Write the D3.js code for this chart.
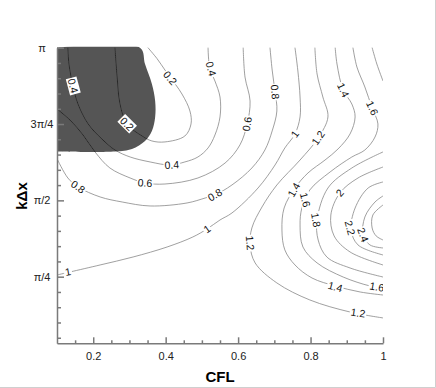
<!DOCTYPE html>
<html>
<head>
<meta charset="utf-8">
<script src="https://cdn.jsdelivr.net/npm/d3@7"></script>
<style>
  body { margin: 0; background: #fff; }
  text { font-family: "Liberation Sans", Arial, sans-serif; }
</style>
</head>
<body>
<div id="drawingfield"></div>
<script>
var PI = Math.PI;

// contour lines, points are [CFL, k*dx]
var c02 = [[0.260,3.142],[0.266,2.840],[0.274,2.562],[0.293,2.357],[0.335,2.233],[0.362,2.182],[0.398,2.172],[0.453,2.233],[0.470,2.357],[0.467,2.490],[0.445,2.665],[0.412,2.840],[0.398,2.912],[0.376,3.030],[0.351,3.142]];
var c04 = [[0.130,3.142],[0.133,2.974],[0.144,2.748],[0.158,2.562],[0.186,2.357],[0.224,2.202],[0.260,2.089],[0.302,2.017],[0.357,1.966],[0.412,1.935],[0.453,1.966],[0.489,2.017],[0.517,2.110],[0.536,2.243],[0.550,2.429],[0.550,2.634],[0.536,2.799],[0.522,2.923],[0.517,3.142]];
var c06 = [[0.100,2.511],[0.136,2.397],[0.172,2.243],[0.205,2.069],[0.246,1.904],[0.302,1.801],[0.343,1.750],[0.398,1.739],[0.489,1.801],[0.564,1.955],[0.605,2.141],[0.625,2.357],[0.633,2.593],[0.619,2.840],[0.614,3.142]];
var c08 = [[0.100,2.000],[0.130,1.801],[0.158,1.709],[0.219,1.606],[0.280,1.554],[0.357,1.513],[0.459,1.544],[0.509,1.595],[0.536,1.627],[0.583,1.729],[0.638,1.904],[0.674,2.089],[0.694,2.285],[0.707,2.490],[0.702,2.686],[0.694,2.912],[0.688,3.142]];
var c10 = [[0.100,0.803],[0.136,0.834],[0.219,0.906],[0.310,0.988],[0.404,1.091],[0.475,1.194],[0.514,1.276],[0.550,1.369],[0.583,1.441],[0.655,1.698],[0.702,1.935],[0.729,2.110],[0.757,2.254],[0.771,2.429],[0.771,2.634],[0.765,2.902],[0.757,3.142]];
var c12 = [[0.812,3.142],[0.818,2.871],[0.834,2.634],[0.848,2.429],[0.821,2.213],[0.771,1.986],[0.707,1.729],[0.666,1.503],[0.638,1.287],[0.633,1.112],[0.647,0.927],[0.707,0.721],[0.798,0.546],[0.909,0.422],[1.000,0.361]];
var c14 = [[0.868,3.142],[0.873,2.974],[0.890,2.706],[0.914,2.562],[0.923,2.429],[0.909,2.254],[0.876,2.100],[0.840,1.986],[0.793,1.853],[0.757,1.698],[0.727,1.492],[0.721,1.266],[0.729,1.061],[0.757,0.906],[0.804,0.772],[0.868,0.690],[0.937,0.628],[1.000,0.597]];
var c16 = [[0.917,3.142],[0.928,2.943],[0.950,2.737],[0.970,2.521],[0.986,2.357],[0.978,2.223],[0.950,2.089],[0.914,2.017],[0.854,1.863],[0.798,1.678],[0.776,1.492],[0.771,1.318],[0.779,1.091],[0.818,0.927],[0.890,0.782],[0.964,0.690],[1.000,0.669]];
var c18top = [[0.970,3.142],[0.983,2.974],[1.000,2.799]];
var c18 = [[1.000,2.069],[0.914,1.904],[0.848,1.698],[0.818,1.369],[0.821,1.163],[0.845,0.988],[0.909,0.875],[1.000,0.782]];
var c20 = [[1.000,1.914],[0.931,1.801],[0.881,1.647],[0.856,1.420],[0.865,1.205],[0.909,1.040],[1.000,0.906]];
var c22 = [[1.000,1.760],[0.959,1.698],[0.923,1.492],[0.912,1.266],[0.931,1.112],[1.000,1.009]];
var c24 = [[1.000,1.616],[0.978,1.554],[0.950,1.400],[0.945,1.215],[0.964,1.112],[1.000,1.081]];
var c26 = [[1.000,1.523],[0.972,1.420],[0.970,1.287],[0.981,1.205],[1.000,1.163]];
var contours = [c02, c04, c06, c08, c10, c12, c14, c16, c18top, c18, c20, c22, c24, c26];

// blanked (dark) zone in the upper left
var blanked = [[0.100,3.142],[0.329,3.142],[0.343,2.974],[0.362,2.768],[0.371,2.593],[0.371,2.429],[0.362,2.285],[0.343,2.182],[0.307,2.100],[0.260,2.074],[0.100,2.074]];

// contour labels: text, CFL, k*dx, angle
var labelText  = ["0.4","0.2","0.2","0.4","0.4","0.6","0.8","0.6","0.8","0.8","1","1","1","1.2","1.4","1.6","1.4","1.6","1.2","1.8","2","2.2","2.4","1.4","1.6","1.2"];
var labelCFL   = [0.144,0.293,0.412,0.525,0.417,0.343,0.158,0.625,0.702,0.536,0.130,0.514,0.757,0.821,0.890,0.970,0.754,0.785,0.633,0.815,0.881,0.909,0.945,0.868,0.983,0.931];
var labelK     = [2.748,2.357,2.830,2.923,1.935,1.750,1.709,2.357,2.686,1.627,0.834,1.276,2.254,2.213,2.706,2.521,1.678,1.575,1.132,1.369,1.647,1.287,1.215,0.680,0.680,0.412];
var labelAngle = [75,45,50,75,-3,3,35,-80,85,-30,-10,-35,-55,-55,65,65,-60,75,85,80,-50,75,70,15,10,8];

// axis ticks
var xMajor = [0.2, 0.4, 0.6, 0.8, 1];
var xMinor = [0.15, 0.25, 0.3, 0.35, 0.45, 0.5, 0.55, 0.65, 0.7, 0.75, 0.85, 0.9, 0.95];
var yMajor = [PI/4, PI/2, 3*PI/4, PI];
var yMajorLabels = ["π/4", "π/2", "3π/4", "π"];
var yMinorSteps = [1,2,3,4,6,7,8,9,11,12,13,14,16,17,18,19];

var width = 436, height = 388;
var plotLeft = 57, plotRight = 383, plotTop = 47.7, plotBottom = 343.3;

var svg = d3.select("#drawingfield").append("svg")
    .attr("width", width)
    .attr("height", height);

var x = d3.scaleLinear().domain([0.1, 1]).range([plotLeft, plotRight]);
var y = d3.scaleLinear().domain([0.1, PI]).range([plotBottom, plotTop]);

var defs = svg.append("defs");
defs.append("clipPath").attr("id", "plotclip")
  .append("rect").attr("x", plotLeft).attr("y", plotTop - 1)
  .attr("width", plotRight - plotLeft).attr("height", plotBottom - plotTop + 1);

var curve = d3.line()
    .x(function(d){ return x(d[0]); })
    .y(function(d){ return y(d[1]); })
    .curve(d3.curveCatmullRom.alpha(0.5));

var blankPath = curve(blanked) + "Z";
defs.append("clipPath").attr("id", "blankclip")
  .append("path").attr("d", blankPath);

var plot = svg.append("g").attr("clip-path", "url(#plotclip)");

plot.append("path")
    .attr("d", blankPath)
    .attr("fill", "#555555");

// contours in the open area
plot.append("g").selectAll("path")
    .data(contours)
    .enter().append("path")
    .attr("d", curve)
    .attr("fill", "none")
    .attr("stroke", "#888")
    .attr("stroke-width", 0.8);

// same contours drawn black inside the blanked zone
plot.append("g").attr("clip-path", "url(#blankclip)")
  .selectAll("path")
    .data(contours)
    .enter().append("path")
    .attr("d", curve)
    .attr("fill", "none")
    .attr("stroke", "#111")
    .attr("stroke-width", 0.8);

// labels with white box behind
var labels = plot.append("g").selectAll("g")
    .data(labelText)
    .enter().append("g")
    .attr("transform", function(d, i){
        return "translate(" + x(labelCFL[i]) + "," + y(labelK[i]) + ") rotate(" + labelAngle[i] + ")";
    });

labels.append("text")
    .attr("text-anchor", "middle")
    .attr("dy", "0.35em")
    .attr("font-size", 10.5)
    .attr("fill", "#111")
    .text(function(d){ return d; });

labels.each(function(){
    var g = d3.select(this);
    var b = g.select("text").node().getBBox();
    g.insert("rect", "text")
        .attr("x", b.x - 1).attr("y", b.y + 0.5)
        .attr("width", b.width + 2).attr("height", b.height - 1)
        .attr("fill", "#fff");
});

// axes
var axisColor = "#7a7a7a";

var xAxis = svg.append("g")
    .attr("transform", "translate(0," + plotBottom + ")")
    .call(d3.axisBottom(x).tickValues(xMajor).tickSizeInner(-6).tickSizeOuter(0).tickPadding(9)
        .tickFormat(function(d){ return d === 1 ? "1" : d3.format(".1f")(d); }));
svg.append("g")
    .attr("transform", "translate(0," + plotBottom + ")")
    .call(d3.axisBottom(x).tickValues(xMinor).tickSizeInner(-3).tickSizeOuter(0).tickFormat(""))
    .select(".domain").remove();

var yAxis = svg.append("g")
    .attr("transform", "translate(" + plotLeft + ",0)")
    .call(d3.axisLeft(y).tickValues(yMajor).tickSizeInner(-7).tickSizeOuter(0).tickPadding(15)
        .tickFormat(function(d, i){ return yMajorLabels[i]; }));
svg.append("g")
    .attr("transform", "translate(" + plotLeft + ",0)")
    .call(d3.axisLeft(y).tickValues(yMinorSteps.map(function(s){ return s * PI / 20; }))
        .tickSizeInner(-4).tickSizeOuter(0).tickFormat(""))
    .select(".domain").remove();

svg.selectAll(".domain, .tick line")
    .attr("stroke", axisColor)
    .attr("stroke-width", 1.5);
svg.selectAll(".tick text")
    .attr("font-size", 11)
    .attr("fill", "#222")
    .style("font-family", "Liberation Sans, Arial, sans-serif");
yAxis.selectAll(".tick text").attr("text-anchor", "middle");

// axis titles
svg.append("text")
    .attr("x", 220).attr("y", 382)
    .attr("text-anchor", "middle")
    .attr("font-size", 15).attr("font-weight", "bold")
    .text("CFL");
svg.append("text")
    .attr("transform", "translate(27,196) rotate(-90)")
    .attr("text-anchor", "middle")
    .attr("font-size", 15).attr("font-weight", "bold")
    .text("kΔx");

// light frame on right and bottom edges
svg.append("path")
    .attr("d", "M435.5,0V387.5H0")
    .attr("fill", "none")
    .attr("stroke", "#cfcfcf");
</script>
</body>
</html>
